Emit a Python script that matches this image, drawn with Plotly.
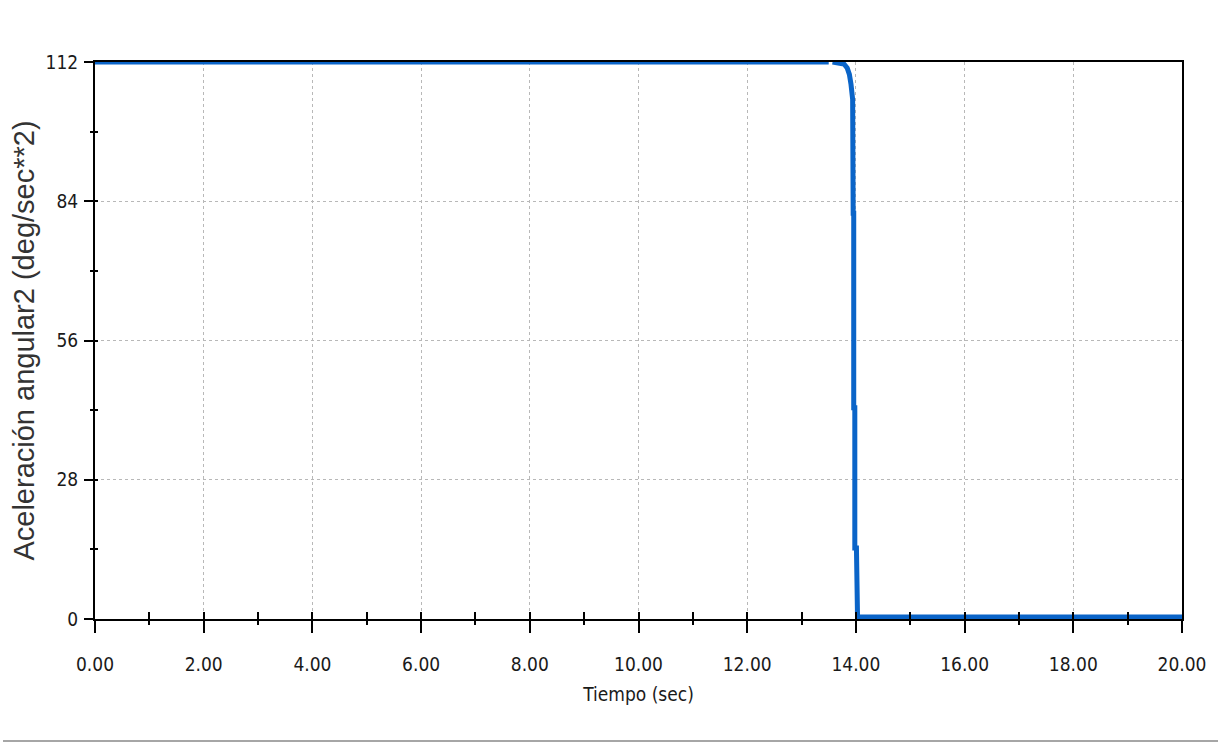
import plotly.graph_objects as go

# Angular acceleration time history (deg/sec**2) vs time (sec)
tiempo = [0.0, 13.50, None, 13.57, 13.78, 13.84, 13.88, 13.91, 13.94,
          13.95, 13.96, 13.96, 13.98, 13.98, 14.01, 14.03, 20.0]
aceleracion = [112, 112, None, 112, 111.6, 110.8, 109.5, 107.5, 104.5,
               81.6, 81.6, 42.5, 42.5, 14.3, 14.3, 0.4, 0.4]

x_ticks = [0, 2, 4, 6, 8, 10, 12, 14, 16, 18, 20]
x_tick_text = ["0.00", "2.00", "4.00", "6.00", "8.00", "10.00",
               "12.00", "14.00", "16.00", "18.00", "20.00"]
y_ticks = [0, 28, 56, 84, 112]
y_tick_text = ["0", "28", "56", "84", "112"]

X_RANGE = [0, 20]
Y_RANGE = [0, 112]

NARROW = "Liberation Sans Narrow, Arial Narrow, DejaVu Sans Condensed, sans-serif"
ARIAL = "Liberation Sans, Arial, sans-serif"

fig = go.Figure()

fig.add_trace(go.Scatter(
    x=tiempo, y=aceleracion, mode="lines", connectgaps=False,
    line=dict(color="#0a64c8", width=5),
    showlegend=False, hoverinfo="skip",
))

# empty trace on the overlay axes that carry the inner half of the ticks
fig.add_trace(go.Scatter(x=[], y=[], xaxis="x2", yaxis="y2",
                         showlegend=False, hoverinfo="skip"))

fig.update_layout(
    width=1218, height=742,
    margin=dict(l=95, r=36, t=62, b=123),
    paper_bgcolor="white", plot_bgcolor="white",
    xaxis=dict(
        range=X_RANGE, tickvals=x_ticks, ticktext=x_tick_text,
        ticks="outside", ticklen=12, tickwidth=1.5, tickcolor="black",
        minor=dict(dtick=1, tick0=0, ticks="outside", ticklen=4,
                   tickwidth=1.5, tickcolor="black", showgrid=False),
        showline=True, linecolor="black", linewidth=2, mirror=True,
        showgrid=True, gridcolor="#b8b8b8", griddash="dot", gridwidth=1,
        zeroline=False,
        tickfont=dict(family=NARROW, size=19, color="#1a1a1a"),
        ticklabelstandoff=15,
        title=dict(text="Tiempo (sec)", standoff=14,
                   font=dict(family=NARROW, size=19, color="#1a1a1a")),
    ),
    yaxis=dict(
        range=Y_RANGE, tickvals=y_ticks, ticktext=y_tick_text,
        ticks="outside", ticklen=9, tickwidth=1.5, tickcolor="black",
        minor=dict(dtick=14, tick0=0, ticks="outside", ticklen=3,
                   tickwidth=1.5, tickcolor="black", showgrid=False),
        showline=True, linecolor="black", linewidth=2, mirror=True,
        showgrid=True, gridcolor="#b8b8b8", griddash="dot", gridwidth=1,
        zeroline=False,
        tickfont=dict(family=NARROW, size=19, color="#1a1a1a"),
        ticklabelstandoff=2,
        title=dict(text="Aceleración angular2 (deg/sec**2)", standoff=2,
                   font=dict(family=ARIAL, size=29, color="#333333")),
    ),
    xaxis2=dict(
        overlaying="x", anchor="y", side="bottom", range=X_RANGE,
        tickmode="linear", tick0=0, dtick=1,
        ticks="inside", ticklen=7, tickwidth=1.5, tickcolor="black",
        showticklabels=False, showgrid=False, showline=False, zeroline=False,
    ),
    yaxis2=dict(
        overlaying="y", anchor="x", side="left", range=Y_RANGE,
        tickmode="linear", tick0=0, dtick=14,
        ticks="inside", ticklen=3, tickwidth=1.5, tickcolor="black",
        showticklabels=False, showgrid=False, showline=False, zeroline=False,
    ),
    shapes=[dict(
        type="line", xref="paper", yref="paper",
        x0=-92 / 1087, x1=1123 / 1087, y0=-122 / 557, y1=-122 / 557,
        line=dict(color="#a6a6a6", width=2),
    )],
)

fig.write_html("out.html")
